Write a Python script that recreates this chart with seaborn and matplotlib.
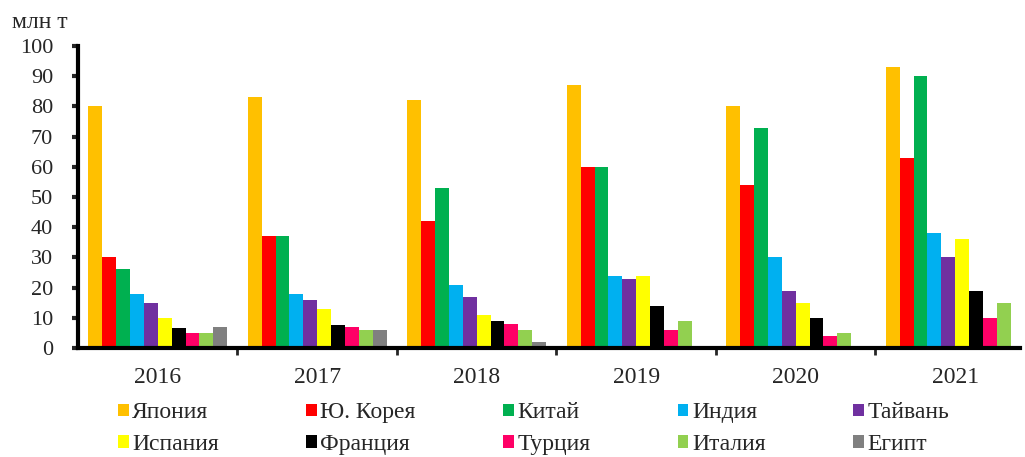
import pandas as pd
import matplotlib.pyplot as plt
import seaborn as sns

# -------------------------
# Data (млн т)
# -------------------------
years = ["2016", "2017", "2018", "2019", "2020", "2021"]
countries = ["Япония", "Ю. Корея", "Китай", "Индия", "Тайвань",
             "Испания", "Франция", "Турция", "Италия", "Египт"]
colors = ["#FFC000", "#FF0000", "#00B050", "#00B0F0", "#7030A0",
          "#FFFF00", "#000000", "#FF0066", "#92D050", "#808080"]

japan = [80, 83, 82, 87, 80, 93]
korea = [30, 37, 42, 60, 54, 63]
china = [26, 37, 53, 60, 73, 90]
india = [18, 18, 21, 24, 30, 38]
taiwan = [15, 16, 17, 23, 19, 30]
spain = [10, 13, 11, 24, 15, 36]
france = [6.5, 7.5, 9, 14, 10, 19]
turkey = [5, 7, 8, 6, 4, 10]
italy = [5, 6, 6, 9, 5, 15]
egypt = [7, 6, 2, 0.8, 0.7, 0]

series = [japan, korea, china, india, taiwan, spain, france, turkey, italy, egypt]
rows = []
for name, vals in zip(countries, series):
    for yr, v in zip(years, vals):
        rows.append({"year": yr, "country": name, "value": v})
df = pd.DataFrame(rows)

# -------------------------
# Plot
# -------------------------
sns.set_style("white")
plt.rcParams["font.family"] = ["Liberation Serif", "DejaVu Serif"]

fig = plt.figure(figsize=(10.25, 4.57), dpi=100)
ax = fig.add_axes([78 / 1025, 109 / 457, 942 / 1025, 302 / 457])

sns.barplot(data=df, x="year", y="value", hue="country", hue_order=countries,
            palette=colors, saturation=1, width=0.87, linewidth=0, ax=ax, legend=True)

ax.set_xlim(-0.5, 5.406)
ax.set_ylim(0, 100)
ax.set_yticks(range(0, 101, 10))
ax.set_xlabel("")
ax.set_ylabel("")

for side in ["top", "right"]:
    ax.spines[side].set_visible(False)
for side in ["left", "bottom"]:
    ax.spines[side].set_linewidth(3)
    ax.spines[side].set_color("black")

ax.tick_params(axis="y", direction="out", length=4, width=3, labelsize=16, pad=14, left=True)
ax.tick_params(axis="x", length=0, labelsize=17, pad=14)
ax.set_xticks([0.5, 1.5, 2.5, 3.5, 4.5], minor=True)
ax.tick_params(axis="x", which="minor", direction="out", length=5, width=2, bottom=True)

fig.text(12 / 1025, 1 - 22 / 457, "млн т", fontsize=17, va="center", ha="left")

# legend filled row by row, like the original
handles, labels = ax.get_legend_handles_labels()
order = [0, 5, 1, 6, 2, 7, 3, 8, 4, 9]
ax.get_legend().remove()
ax.legend([handles[i] for i in order], [labels[i] for i in order],
          loc="lower left", bbox_to_anchor=(118 / 1025, 2 / 457),
          bbox_transform=fig.transFigure, ncol=5, frameon=False,
          fontsize=17, handlelength=0.45, handleheight=0.45, handletextpad=0.15,
          columnspacing=3.7, labelspacing=0.45, borderpad=0, borderaxespad=0)

fig.savefig("out.png", dpi=100)
